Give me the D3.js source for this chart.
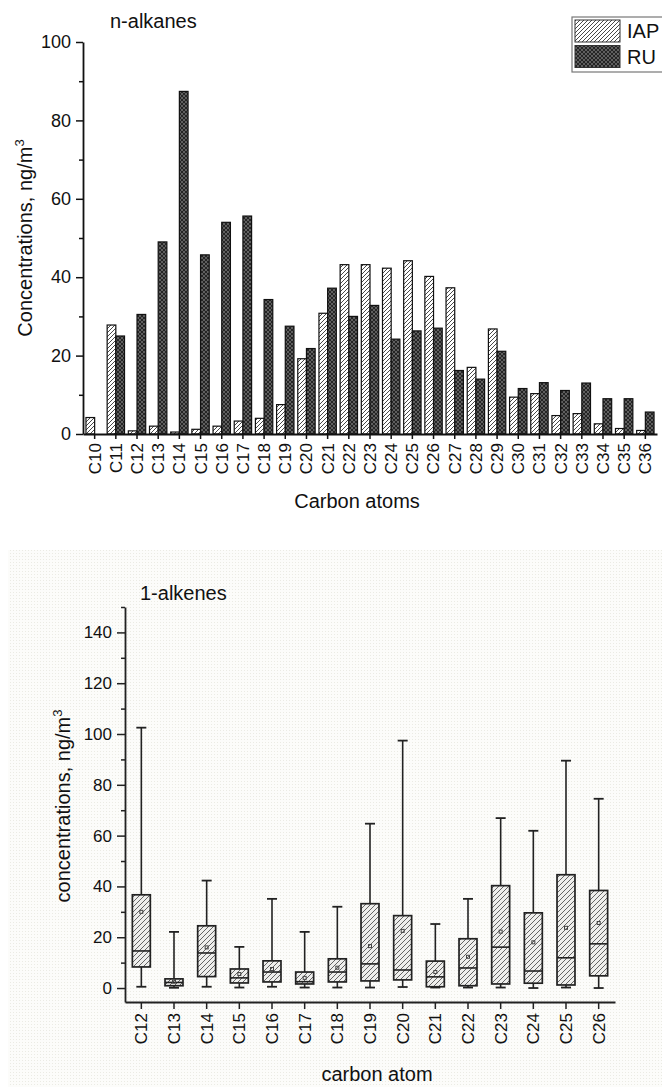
<!DOCTYPE html>
<html>
<head>
<meta charset="utf-8">
<script src="https://cdn.jsdelivr.net/npm/d3@7"></script>
<style>
  body { margin: 0; background: #fff; }
  svg text { font-family: "Liberation Sans", Arial, sans-serif; fill: #111; }
</style>
</head>
<body>
<div id="chart"></div>
<script>
// n-alkanes (top bar chart)
const carbons = ["C10","C11","C12","C13","C14","C15","C16","C17","C18","C19","C20","C21","C22","C23",
  "C24","C25","C26","C27","C28","C29","C30","C31","C32","C33","C34","C35","C36"];
const iapValues = [4.2, 27.8, 0.8, 2.0, 0.5, 1.2, 2.0, 3.3, 4.0, 7.5, 19.2, 30.8, 43.2, 43.2,
  42.3, 44.2, 40.2, 37.3, 17.0, 26.8, 9.4, 10.3, 4.7, 5.2, 2.6, 1.4, 0.9];
const ruValues = [0, 25.0, 30.5, 49.0, 87.4, 45.7, 54.0, 55.6, 34.3, 27.5, 21.8, 37.2, 30.0, 32.8,
  24.2, 26.3, 27.0, 16.2, 14.0, 21.1, 11.6, 13.1, 11.1, 13.0, 9.0, 9.0, 5.6];
const seriesNames = ["IAP", "RU"];
const topTicks = [0, 20, 40, 60, 80, 100];
const topMinor = [10, 30, 50, 70, 90];

// 1-alkenes (bottom box chart)
const alkenes = ["C12","C13","C14","C15","C16","C17","C18","C19","C20","C21","C22","C23","C24","C25","C26"];
const whiskerHigh = [102.5, 22.1, 42.3, 16.2, 35.1, 22.1, 32.0, 64.7, 97.4, 25.2, 35.1, 66.9, 61.9, 89.5, 74.5];
const boxHigh     = [36.7, 3.6, 24.5, 7.5, 10.7, 6.3, 11.5, 33.2, 28.5, 10.6, 19.4, 40.3, 29.6, 44.6, 38.4];
const medians     = [14.6, 2.2, 13.8, 4.0, 6.3, 2.5, 6.3, 9.5, 7.1, 4.4, 7.9, 16.1, 6.7, 11.9, 17.4];
const boxLow      = [8.3, 0.9, 4.5, 2.0, 2.4, 1.6, 2.4, 2.8, 3.2, 0.5, 0.9, 1.6, 1.9, 1.2, 4.8];
const whiskerLow  = [0.5, 0.1, 0.5, 0.2, 0.5, 0.2, 0.2, 0.2, 0.4, 0.2, 0.2, 0.2, 0.0, 0.2, 0.0];
const means       = [30.0, 2.5, 16.0, 5.5, 7.5, 4.0, 8.0, 16.5, 22.5, 6.3, 12.3, 22.2, 18.0, 23.7, 25.6];
const bottomTicks = [0, 20, 40, 60, 80, 100, 120, 140];
const bottomMinor = [10, 30, 50, 70, 90, 110, 130, 150];

const svg = d3.select("#chart")
    .append("svg")
    .attr("width", 662)
    .attr("height", 1087);

const defs = svg.append("defs");

// hatch for IAP bars
const hatch = defs.append("pattern")
    .attr("id", "hatchIAP")
    .attr("patternUnits", "userSpaceOnUse")
    .attr("width", 4)
    .attr("height", 4);
hatch.append("rect").attr("width", 4).attr("height", 4).attr("fill", "#fff");
hatch.append("path")
    .attr("d", "M-1,1 l2,-2 M0,4 l4,-4 M3,5 l2,-2")
    .attr("stroke", "#333")
    .attr("stroke-width", 0.9);

// dotted cross pattern for RU bars
const cross = defs.append("pattern")
    .attr("id", "crossRU")
    .attr("patternUnits", "userSpaceOnUse")
    .attr("width", 4)
    .attr("height", 4);
cross.append("rect").attr("width", 4).attr("height", 4).attr("fill", "#252525");
[[0, 0], [4, 0], [0, 4], [4, 4], [2, 2]].forEach(p => {
    cross.append("circle").attr("cx", p[0]).attr("cy", p[1]).attr("r", 0.8).attr("fill", "#a8a8a8");
});

// hatch for boxes
const boxHatch = defs.append("pattern")
    .attr("id", "boxHatch")
    .attr("patternUnits", "userSpaceOnUse")
    .attr("width", 5)
    .attr("height", 5);
boxHatch.append("rect").attr("width", 5).attr("height", 5).attr("fill", "#eeeeec");
boxHatch.append("path")
    .attr("d", "M-1,1 l2,-2 M0,5 l5,-5 M4,6 l2,-2")
    .attr("stroke", "#555")
    .attr("stroke-width", 0.9);

// faint textured background of the lower panel
const paper = defs.append("pattern")
    .attr("id", "paper")
    .attr("patternUnits", "userSpaceOnUse")
    .attr("width", 3)
    .attr("height", 3);
paper.append("rect").attr("width", 3).attr("height", 3).attr("fill", "#fcfcfa");
paper.append("rect").attr("x", 1).attr("y", 1).attr("width", 1).attr("height", 1).attr("fill", "#ebebe4");

// ---------------- top chart ----------------
const topG = svg.append("g");

const x = d3.scaleBand()
    .domain(carbons)
    .range([83, 657])
    .paddingInner(0.18)
    .paddingOuter(0.14);

const xSub = d3.scaleBand()
    .domain(seriesNames)
    .range([0, x.bandwidth()]);

const y = d3.scaleLinear()
    .domain([0, 100])
    .range([434, 42]);

const barData = [];
carbons.forEach((c, i) => {
    barData.push({ c: c, s: "IAP", v: iapValues[i] });
    barData.push({ c: c, s: "RU", v: ruValues[i] });
});

topG.selectAll("rect.bar")
    .data(barData.filter(d => d.v > 0))
    .enter()
    .append("rect")
    .attr("class", "bar")
    .attr("x", d => x(d.c) + xSub(d.s))
    .attr("y", d => y(d.v))
    .attr("width", xSub.bandwidth())
    .attr("height", d => y(0) - y(d.v))
    .attr("fill", d => d.s === "IAP" ? "url(#hatchIAP)" : "url(#crossRU)")
    .attr("stroke", "#111")
    .attr("stroke-width", 1.2);

// y axis
const yAxis = topG.append("g")
    .attr("transform", "translate(83,0)")
    .call(d3.axisLeft(y).tickValues(topTicks).tickSize(7).tickSizeOuter(0));
yAxis.selectAll("text").attr("font-size", 18).attr("dx", "-2");
yAxis.selectAll("line").attr("stroke", "#111").attr("stroke-width", 1.5);
yAxis.select(".domain").attr("stroke", "#111").attr("stroke-width", 1.8);

const yMinor = topG.append("g")
    .attr("transform", "translate(83,0)")
    .call(d3.axisLeft(y).tickValues(topMinor).tickSize(4).tickFormat(""));
yMinor.select(".domain").remove();
yMinor.selectAll("line").attr("stroke", "#111").attr("stroke-width", 1.5);

// x axis
const xAxis = topG.append("g")
    .attr("transform", "translate(0,434)")
    .call(d3.axisBottom(x).tickSize(5).tickSizeOuter(0));
xAxis.select(".domain").attr("stroke", "#111").attr("stroke-width", 1.8);
xAxis.selectAll("line").attr("stroke", "#111").attr("stroke-width", 1.5);
xAxis.selectAll("text")
    .attr("font-size", 17)
    .attr("transform", "rotate(-90)")
    .attr("text-anchor", "end")
    .attr("x", -9)
    .attr("y", 0)
    .attr("dy", "0.35em");

topG.append("text")
    .attr("x", 110)
    .attr("y", 28)
    .attr("font-size", 20)
    .text("n-alkanes");

topG.append("text")
    .attr("x", 357)
    .attr("y", 508)
    .attr("text-anchor", "middle")
    .attr("font-size", 20)
    .text("Carbon atoms");

const topLabel = topG.append("text")
    .attr("transform", "translate(32,238) rotate(-90)")
    .attr("text-anchor", "middle")
    .attr("font-size", 20);
topLabel.append("tspan").text("Concentrations, ng/m");
topLabel.append("tspan").attr("font-size", 13).attr("dy", -8).text("3");

// legend
const legend = topG.append("g");
legend.append("rect")
    .attr("x", 572)
    .attr("y", 17)
    .attr("width", 96)
    .attr("height", 55)
    .attr("fill", "#fff")
    .attr("stroke", "#777")
    .attr("stroke-width", 1.2);
seriesNames.forEach((s, i) => {
    legend.append("rect")
        .attr("x", 575)
        .attr("y", 20 + i * 25.5)
        .attr("width", 45)
        .attr("height", 22)
        .attr("fill", s === "IAP" ? "url(#hatchIAP)" : "url(#crossRU)")
        .attr("stroke", "#333")
        .attr("stroke-width", 1);
    legend.append("text")
        .attr("x", 627)
        .attr("y", 38 + i * 25.5)
        .attr("font-size", 20)
        .text(s);
});

// ---------------- bottom chart ----------------
const bottomG = svg.append("g");

bottomG.append("rect")
    .attr("x", 8)
    .attr("y", 550)
    .attr("width", 654)
    .attr("height", 537)
    .attr("fill", "url(#paper)");

const bx = d3.scaleBand()
    .domain(alkenes)
    .range([125, 615])
    .paddingInner(0.45)
    .paddingOuter(0.225);

const by = d3.scaleLinear()
    .domain([-5.5, 150])
    .range([1002, 607]);

const boxData = alkenes.map((c, i) => ({
    c: c, hi: whiskerHigh[i], q3: boxHigh[i], med: medians[i], q1: boxLow[i], lo: whiskerLow[i], mean: means[i]
}));

const boxes = bottomG.selectAll("g.box")
    .data(boxData)
    .enter()
    .append("g")
    .attr("class", "box");

const cx = d => bx(d.c) + bx.bandwidth() / 2;

// whiskers
boxes.append("line")
    .attr("x1", cx).attr("x2", cx)
    .attr("y1", d => by(d.hi)).attr("y2", d => by(d.q3))
    .attr("stroke", "#222").attr("stroke-width", 1.6);
boxes.append("line")
    .attr("x1", cx).attr("x2", cx)
    .attr("y1", d => by(d.q1)).attr("y2", d => by(d.lo))
    .attr("stroke", "#222").attr("stroke-width", 1.6);
boxes.append("line")
    .attr("x1", d => cx(d) - 5).attr("x2", d => cx(d) + 5)
    .attr("y1", d => by(d.hi)).attr("y2", d => by(d.hi))
    .attr("stroke", "#222").attr("stroke-width", 1.8);
boxes.append("line")
    .attr("x1", d => cx(d) - 5).attr("x2", d => cx(d) + 5)
    .attr("y1", d => by(d.lo)).attr("y2", d => by(d.lo))
    .attr("stroke", "#222").attr("stroke-width", 1.8);

// boxes
boxes.append("rect")
    .attr("x", d => bx(d.c))
    .attr("y", d => by(d.q3))
    .attr("width", bx.bandwidth())
    .attr("height", d => by(d.q1) - by(d.q3))
    .attr("fill", "url(#boxHatch)")
    .attr("stroke", "#222")
    .attr("stroke-width", 1.7);

// medians
boxes.append("line")
    .attr("x1", d => bx(d.c)).attr("x2", d => bx(d.c) + bx.bandwidth())
    .attr("y1", d => by(d.med)).attr("y2", d => by(d.med))
    .attr("stroke", "#222").attr("stroke-width", 1.6);

// mean markers
boxes.append("rect")
    .attr("x", d => cx(d) - 1.5)
    .attr("y", d => by(d.mean) - 1.5)
    .attr("width", 3)
    .attr("height", 3)
    .attr("fill", "none")
    .attr("stroke", "#444")
    .attr("stroke-width", 1);

// y axis
const byAxis = bottomG.append("g")
    .attr("transform", "translate(125,0)")
    .call(d3.axisLeft(by).tickValues(bottomTicks).tickSize(8).tickSizeOuter(0));
byAxis.select(".domain").attr("stroke", "#222").attr("stroke-width", 1.8);
byAxis.selectAll("line").attr("stroke", "#222").attr("stroke-width", 1.5);
byAxis.selectAll("text").attr("font-size", 17).attr("fill", "#222").attr("dx", "-2");

const byMinor = bottomG.append("g")
    .attr("transform", "translate(125,0)")
    .call(d3.axisLeft(by).tickValues(bottomMinor).tickSize(4).tickFormat(""));
byMinor.select(".domain").remove();
byMinor.selectAll("line").attr("stroke", "#222").attr("stroke-width", 1.5);

// x axis
const bxAxis = bottomG.append("g")
    .attr("transform", "translate(0,1002)")
    .call(d3.axisBottom(bx).tickSize(7).tickSizeOuter(0));
bxAxis.select(".domain").attr("stroke", "#222").attr("stroke-width", 1.8);
bxAxis.selectAll("line").attr("stroke", "#222").attr("stroke-width", 1.5);
bxAxis.selectAll("text")
    .attr("font-size", 17)
    .attr("fill", "#222")
    .attr("transform", "rotate(-90)")
    .attr("text-anchor", "end")
    .attr("x", -11)
    .attr("y", 0)
    .attr("dy", "0.35em");

bottomG.append("text")
    .attr("x", 140)
    .attr("y", 600)
    .attr("font-size", 20)
    .text("1-alkenes");

bottomG.append("text")
    .attr("x", 377)
    .attr("y", 1081)
    .attr("text-anchor", "middle")
    .attr("font-size", 20)
    .text("carbon atom");

const bottomLabel = bottomG.append("text")
    .attr("transform", "translate(70,806) rotate(-90)")
    .attr("text-anchor", "middle")
    .attr("font-size", 20);
bottomLabel.append("tspan").text("concentrations, ng/m");
bottomLabel.append("tspan").attr("font-size", 13).attr("dy", -8).text("3");
</script>
</body>
</html>
